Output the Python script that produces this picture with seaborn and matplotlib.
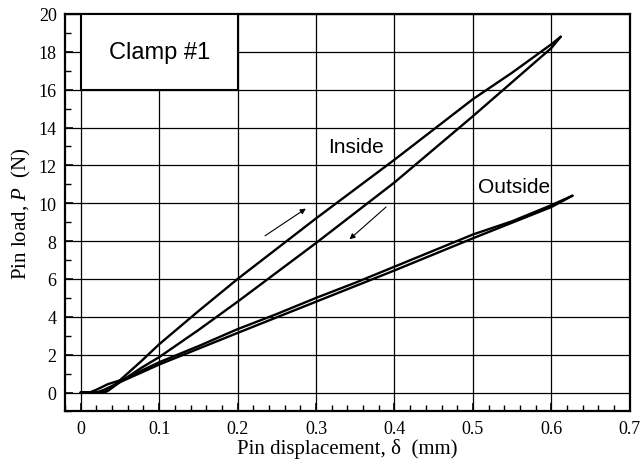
import pandas as pd
import matplotlib
matplotlib.use("Agg")
import matplotlib.pyplot as plt
from matplotlib.patches import Rectangle
from matplotlib.ticker import MultipleLocator, FuncFormatter
import seaborn as sns

# Inside clamp: loading and unloading branches
inside_load_x = [0.0, 0.02, 0.033, 0.05, 0.077, 0.1, 0.15, 0.2, 0.25, 0.3, 0.35, 0.4, 0.45, 0.5, 0.55, 0.6, 0.612]
inside_load_p = [0.0, 0.0, 0.05, 0.65, 1.65, 2.55, 4.3, 6.0, 7.6, 9.2, 10.75, 12.3, 13.9, 15.5, 16.9, 18.4, 18.8]
inside_unload_x = [0.612, 0.6, 0.55, 0.5, 0.45, 0.4, 0.35, 0.3, 0.25, 0.2, 0.15, 0.1, 0.077, 0.05, 0.035, 0.025, 0.0]
inside_unload_p = [18.8, 18.2, 16.4, 14.6, 12.85, 11.1, 9.5, 7.9, 6.35, 4.8, 3.3, 1.87, 1.3, 0.55, 0.1, 0.0, 0.0]

# Outside clamp: loading and unloading branches
outside_load_x = [0.0, 0.011, 0.02, 0.035, 0.056, 0.077, 0.1, 0.15, 0.2, 0.25, 0.3, 0.35, 0.4, 0.45, 0.5, 0.55, 0.6, 0.627]
outside_load_p = [0.0, 0.0, 0.15, 0.45, 0.72, 1.15, 1.6, 2.45, 3.35, 4.15, 5.0, 5.8, 6.65, 7.5, 8.35, 9.05, 9.9, 10.4]
outside_unload_x = [0.627, 0.6, 0.5, 0.4, 0.3, 0.2, 0.1, 0.077, 0.05, 0.03, 0.02, 0.0]
outside_unload_p = [10.4, 9.8, 8.15, 6.45, 4.8, 3.15, 1.48, 1.05, 0.55, 0.15, 0.0, 0.0]

# Build long table for seaborn
frames = []
for name, xs, ps in [("in_load", inside_load_x, inside_load_p),
                     ("in_unload", inside_unload_x, inside_unload_p),
                     ("out_load", outside_load_x, outside_load_p),
                     ("out_unload", outside_unload_x, outside_unload_p)]:
    frames.append(pd.DataFrame({"x": xs, "P": ps, "curve": name}))
df = pd.concat(frames, ignore_index=True)

sns.set_style("ticks")
plt.rcParams["font.family"] = ["Liberation Serif", "DejaVu Serif"]
plt.rcParams["mathtext.fontset"] = "custom"
plt.rcParams["mathtext.rm"] = "Liberation Serif"
plt.rcParams["mathtext.it"] = "Liberation Serif:italic"
for key in ["text.color", "axes.labelcolor", "xtick.color", "ytick.color", "axes.edgecolor"]:
    plt.rcParams[key] = "black"

fig = plt.figure(figsize=(6.4, 4.6), dpi=100)
ax = fig.add_axes([0.1016, 0.1033, 0.8824, 0.8641])

sns.lineplot(data=df, x="x", y="P", units="curve", estimator=None, sort=False,
             color="black", linewidth=1.7, ax=ax, zorder=3)

ax.set_xlim(-0.02, 0.7)
ax.set_ylim(-1, 20)
ax.xaxis.set_major_locator(MultipleLocator(0.1))
ax.xaxis.set_minor_locator(MultipleLocator(0.02))
ax.yaxis.set_major_locator(MultipleLocator(2))
ax.yaxis.set_minor_locator(MultipleLocator(1))
ax.xaxis.set_major_formatter(FuncFormatter(lambda v, pos: "0" if abs(v) < 1e-9 else f"{v:.1f}"))
ax.grid(True, which="major", color="black", linewidth=0.9, zorder=0)
ax.set_axisbelow(True)
ax.tick_params(which="both", direction="in", top=False, right=False, labelsize=13, pad=6)
ax.tick_params(which="major", length=6, width=1.2)
ax.tick_params(which="minor", length=4, width=1.0)
for s in ax.spines.values():
    s.set_linewidth(1.6)
    s.set_color("black")

ax.set_xlabel("Pin displacement, δ  (mm)", fontsize=15, labelpad=1)
ax.set_ylabel("Pin load, $P$  (N)", fontsize=15, labelpad=4)

# Label box in upper left
ax.add_patch(Rectangle((0.0, 16.0), 0.2, 4.0, facecolor="white", edgecolor="black",
                       linewidth=1.5, zorder=4))
ax.text(0.1, 18.0, "Clamp #1", ha="center", va="center", fontsize=17,
        family="Liberation Sans", zorder=5)

ax.text(0.351, 13.0, "Inside", ha="center", va="center", fontsize=15, family="Liberation Sans")
ax.text(0.552, 10.9, "Outside", ha="center", va="center", fontsize=15, family="Liberation Sans")

arrow = dict(arrowstyle="-|>", color="black", lw=0.8, mutation_scale=8)
ax.annotate("", xy=(0.29, 9.8), xytext=(0.232, 8.2), arrowprops=arrow)
ax.annotate("", xy=(0.340, 8.0), xytext=(0.392, 9.9), arrowprops=arrow)

fig.savefig("out.png", dpi=100)
